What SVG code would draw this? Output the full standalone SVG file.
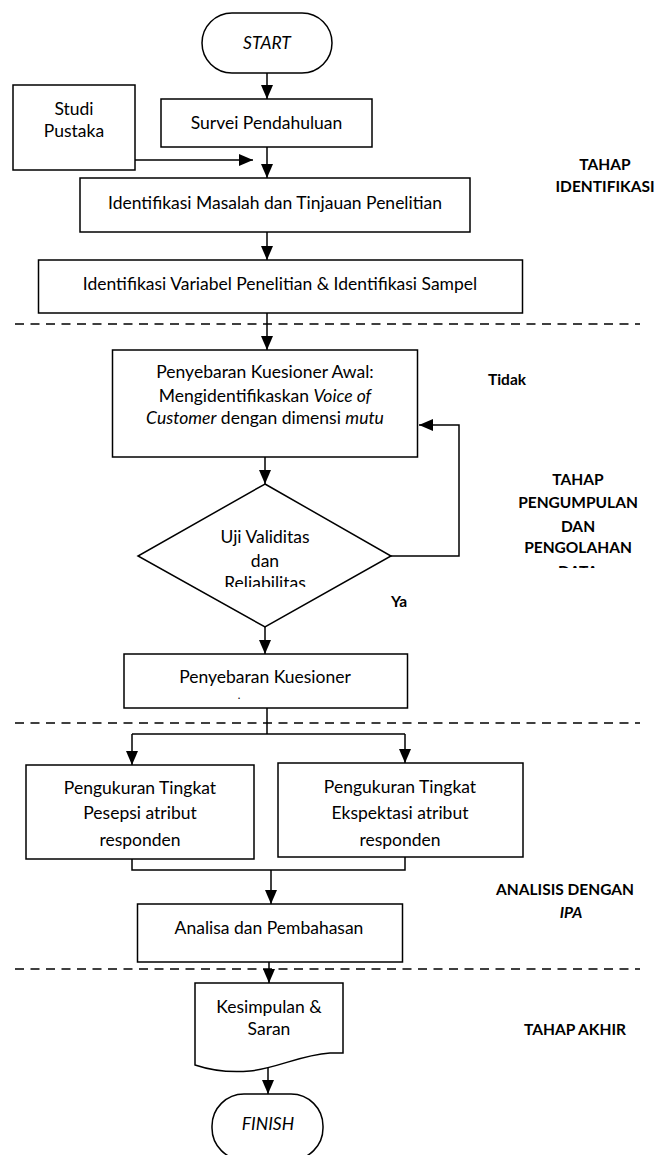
<svg xmlns="http://www.w3.org/2000/svg" width="657" height="1155" viewBox="0 0 657 1155">
<style>
.box{fill:#fff;stroke:#000;stroke-width:1.5}
.t{font-family:Lato,"Liberation Sans",sans-serif;font-size:17.5px;text-anchor:middle;fill:#000}
.b{font-weight:bold;font-size:15.5px}
.i{font-style:italic}
.conn{stroke:#000;stroke-width:1.5;fill:none}
.arr{marker-end:url(#ah)}
.dash{stroke:#000;stroke-width:1.6;stroke-dasharray:9 6.5;fill:none}
</style>
<defs>
<marker id="ah" viewBox="0 0 14 12" refX="14" refY="6" markerWidth="14" markerHeight="12" markerUnits="userSpaceOnUse" orient="auto">
<path d="M0,0 L14,6 L0,12 z" fill="#000"/>
</marker>
<clipPath id="clipRel"><rect x="130" y="570" width="270" height="17"/></clipPath>
<clipPath id="clipData"><rect x="500" y="555" width="157" height="13"/></clipPath>
</defs>
<rect width="657" height="1155" fill="#fff"/>

<g id="connectors">
<line class="conn arr" x1="267" y1="73" x2="267" y2="99"/>
<line class="conn arr" x1="135" y1="160" x2="253" y2="160"/>
<line class="conn arr" x1="267" y1="147" x2="267" y2="178"/>
<line class="conn arr" x1="267" y1="232" x2="267" y2="260"/>
<line class="conn arr" x1="267" y1="313" x2="267" y2="350"/>
<line class="conn arr" x1="265" y1="457" x2="265" y2="484"/>
<polyline class="conn arr" points="391,556 459,556 459,425 419,425"/>
<line class="conn arr" x1="265" y1="627" x2="265" y2="654"/>
<polyline class="conn" points="267,708 267,734"/>
<polyline class="conn arr" points="132,734 132,765"/>
<polyline class="conn" points="132,734 405,734"/>
<polyline class="conn arr" points="405,734 405,763"/>
<polyline class="conn" points="132,859 132,870 405,870 405,857"/>
<line class="conn arr" x1="271" y1="870" x2="271" y2="904"/>
<line class="conn arr" x1="269" y1="962" x2="269" y2="983"/>
<line class="conn arr" x1="268" y1="1068" x2="268" y2="1094"/>
</g>

<g id="dividers">
<line class="dash" x1="15" y1="324" x2="640" y2="324"/>
<line class="dash" x1="15" y1="723" x2="640" y2="723"/>
<line class="dash" x1="15" y1="969" x2="640" y2="969"/>
</g>

<g id="start">
<rect class="box" x="202" y="13" width="130" height="60" rx="30" ry="30"/>
<text class="t i" x="267" y="49">START</text>
</g>

<g id="studi-pustaka">
<rect class="box" x="13" y="85" width="122" height="85"/>
<text class="t" x="74" y="115">Studi</text>
<text class="t" x="74" y="137">Pustaka</text>
</g>

<g id="survei">
<rect class="box" x="161" y="99" width="211" height="48"/>
<text class="t" x="266.5" y="129">Survei Pendahuluan</text>
</g>

<g id="identifikasi-masalah">
<rect class="box" x="80" y="178" width="390" height="54"/>
<text class="t" x="275" y="209">Identifikasi Masalah dan Tinjauan Penelitian</text>
</g>

<g id="identifikasi-variabel">
<rect class="box" x="38.5" y="260" width="484" height="53"/>
<text class="t" x="280" y="290">Identifikasi Variabel Penelitian &amp; Identifikasi Sampel</text>
</g>

<g id="kuesioner-awal">
<rect class="box" x="112.5" y="350" width="305" height="107"/>
<text class="t" x="265" y="378">Penyebaran Kuesioner Awal:</text>
<text class="t" x="265" y="402">Mengidentifikaskan <tspan class="i">Voice of</tspan></text>
<text class="t" x="265" y="424"><tspan class="i">Customer</tspan> dengan dimensi <tspan class="i">mutu</tspan></text>
</g>

<g id="uji">
<polygon class="box" points="265,484 391,556 265,627 138,556"/>
<text class="t" x="265" y="543">Uji Validitas</text>
<text class="t" x="265" y="567">dan</text>
<text class="t" x="265" y="589" clip-path="url(#clipRel)">Reliabilitas</text>
</g>

<g id="kuesioner">
<rect class="box" x="124" y="654" width="283.5" height="54"/>
<text class="t" x="265" y="683">Penyebaran Kuesioner</text>
<text class="t" x="239" y="699" style="font-size:11px">.</text>
</g>

<g id="persepsi">
<rect class="box" x="26" y="765" width="228" height="94"/>
<text class="t" x="140" y="794">Pengukuran Tingkat</text>
<text class="t" x="140" y="819">Pesepsi atribut</text>
<text class="t" x="140" y="846">responden</text>
</g>

<g id="ekspektasi">
<rect class="box" x="278" y="763" width="245" height="94"/>
<text class="t" x="400" y="793">Pengukuran Tingkat</text>
<text class="t" x="400" y="819">Ekspektasi atribut</text>
<text class="t" x="400" y="846">responden</text>
</g>

<g id="analisa">
<rect class="box" x="137.5" y="904" width="265" height="58"/>
<text class="t" x="269" y="934">Analisa dan Pembahasan</text>
</g>

<g id="kesimpulan">
<path class="box" d="M195,983 H343 V1053 H330 C300,1055 278,1068 250,1071 C228,1073 210,1070 195,1065 Z"/>
<text class="t" x="269" y="1013">Kesimpulan &amp;</text>
<text class="t" x="269" y="1035">Saran</text>
</g>

<g id="finish">
<rect class="box" x="212" y="1094" width="111" height="66" rx="32" ry="32"/>
<text class="t i" x="268" y="1130">FINISH</text>
</g>

<g id="labels">
<text class="t b" x="605" y="170">TAHAP</text>
<text class="t b" x="605" y="192">IDENTIFIKASI</text>
<text class="t b" x="507" y="385">Tidak</text>
<text class="t b" x="578" y="485">TAHAP</text>
<text class="t b" x="578" y="508">PENGUMPULAN</text>
<text class="t b" x="578" y="532">DAN</text>
<text class="t b" x="578" y="553">PENGOLAHAN</text>
<text class="t b" x="578" y="577" clip-path="url(#clipData)">DATA</text>
<text class="t b" x="399" y="607">Ya</text>
<text class="t b" x="565" y="895">ANALISIS DENGAN</text>
<text class="t b i" x="571" y="918">IPA</text>
<text class="t b" x="575" y="1035">TAHAP AKHIR</text>
</g>
</svg>
